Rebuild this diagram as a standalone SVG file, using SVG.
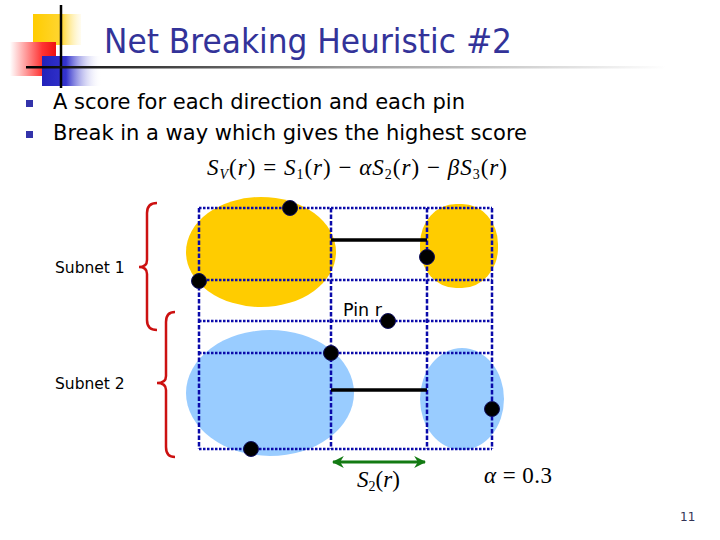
<svg xmlns="http://www.w3.org/2000/svg" width="720" height="540" viewBox="0 0 720 540">
<defs>
<linearGradient id="gy" x1="0" y1="0" x2="1" y2="0"><stop offset="0" stop-color="#FFCC00"/><stop offset="0.6" stop-color="#FFD633"/><stop offset="1" stop-color="#FFF5CC" stop-opacity="0.3"/></linearGradient>
<linearGradient id="gr" x1="0" y1="0" x2="1" y2="0"><stop offset="0" stop-color="#FFFFFF"/><stop offset="0.7" stop-color="#FF3333"/><stop offset="1" stop-color="#EE1111"/></linearGradient>
<linearGradient id="gb" x1="0" y1="0" x2="1" y2="0"><stop offset="0" stop-color="#2222BB"/><stop offset="0.4" stop-color="#3333CC"/><stop offset="1" stop-color="#FFFFFF" stop-opacity="0"/></linearGradient>
<linearGradient id="gl" x1="0" y1="0" x2="1" y2="0"><stop offset="0" stop-color="#000000"/><stop offset="0.5" stop-color="#999999"/><stop offset="1" stop-color="#FFFFFF"/></linearGradient>
<marker id="ah" viewBox="0 0 10 10" refX="9" refY="5" markerWidth="4" markerHeight="4" orient="auto-start-reverse"><path d="M0,0 L10,5 L0,10 L3,5 Z" fill="#137A13"/></marker>
</defs>
<style>
.title{font-family:"DejaVu Sans",sans-serif;fill:#333399;font-size:33px}
.bt{font-family:"DejaVu Sans",sans-serif;fill:#000;font-size:22px}
.lbl{font-family:"DejaVu Sans",sans-serif;fill:#000;font-size:15.5px}
.pin{font-family:"DejaVu Sans",sans-serif;fill:#000;font-size:17.5px}
.math{font-family:"Liberation Serif",serif;fill:#000;font-size:23px}
.hg{stroke:#0A0AAA;stroke-width:2.5;stroke-dasharray:2.5 1.5;fill:none}
.vg{stroke:#0A0AAA;stroke-width:2.5;stroke-dasharray:4.5 2;fill:none}
.dot{fill:#000;stroke:#101060;stroke-width:1}
.brace{fill:none;stroke:#CC1111;stroke-width:2.5}
.wire{stroke:#000;stroke-width:3.5}
</style>
<rect width="720" height="540" fill="#fff"/>
<g id="logo">
<rect x="33" y="14" width="48" height="31" fill="url(#gy)"/>
<rect x="10" y="42" width="46" height="34" fill="url(#gr)"/>
<rect x="42" y="56" width="60" height="30" fill="url(#gb)"/>
<line x1="61" y1="5" x2="61" y2="88" stroke="#000" stroke-width="2.5"/>
<rect x="26" y="66" width="640" height="2.5" fill="url(#gl)"/>
</g>
<text class="title" x="104" y="53" textLength="408" lengthAdjust="spacingAndGlyphs">Net Breaking Heuristic #2</text>
<rect x="26" y="100" width="7" height="7" fill="#3333AA"/>
<rect x="26" y="131" width="7" height="7" fill="#3333AA"/>
<text class="bt" x="53" y="109" textLength="412" lengthAdjust="spacingAndGlyphs">A score for each direction and each pin</text>
<text class="bt" x="53" y="140" textLength="474" lengthAdjust="spacingAndGlyphs">Break in a way which gives the highest score</text>
<text class="math" x="207" y="175" font-style="italic" textLength="300">S<tspan font-size="14" dy="4">V</tspan><tspan dy="-4" font-style="normal">(</tspan>r<tspan font-style="normal">) = </tspan>S<tspan font-size="14" dy="4" font-style="normal">1</tspan><tspan dy="-4" font-style="normal">(</tspan>r<tspan font-style="normal">) − </tspan>αS<tspan font-size="14" dy="4" font-style="normal">2</tspan><tspan dy="-4" font-style="normal">(</tspan>r<tspan font-style="normal">) − </tspan>βS<tspan font-size="14" dy="4" font-style="normal">3</tspan><tspan dy="-4" font-style="normal">(</tspan>r<tspan font-style="normal">)</tspan></text>
<g id="subnet1">
<ellipse cx="261" cy="252" rx="75" ry="55" fill="#FFCC00"/>
<rect x="420" y="204" width="78" height="84" rx="36" ry="40" fill="#FFCC00"/>
</g>
<g id="subnet2">
<ellipse cx="270" cy="393" rx="84" ry="63" fill="#99CCFF"/>
<ellipse cx="462" cy="399" rx="42" ry="51" fill="#99CCFF"/>
</g>
<g id="grid">
<line class="hg" x1="199" y1="208" x2="492" y2="208"/>
<line class="hg" x1="199" y1="280" x2="492" y2="280"/>
<line class="hg" x1="199" y1="321" x2="492" y2="321"/>
<line class="hg" x1="199" y1="353" x2="492" y2="353"/>
<line class="hg" x1="199" y1="449" x2="492" y2="449"/>
<line class="vg" x1="199" y1="208" x2="199" y2="449"/>
<line class="vg" x1="331" y1="208" x2="331" y2="449"/>
<line class="vg" x1="427" y1="208" x2="427" y2="449"/>
<line class="vg" x1="492" y1="208" x2="492" y2="449"/>
</g>
<g id="connectors">
<line class="wire" x1="331" y1="240" x2="427" y2="240"/>
<line class="wire" x1="331" y1="390" x2="427" y2="390"/>
<line x1="333" y1="462" x2="425" y2="462" stroke="#137A13" stroke-width="3" marker-start="url(#ah)" marker-end="url(#ah)"/>
<path class="brace" d="M157,203 Q147,203 147,213 L147,260 Q147,267 139,267 Q147,267 147,274 L147,320 Q147,330 157,330"/>
<path class="brace" d="M175,312 Q166,312 166,322 L166,376 Q166,383 157,383 Q166,383 166,390 L166,447 Q166,457 175,457"/>
</g>
<g id="pins">
<circle class="dot" cx="290" cy="208" r="7.5"/>
<circle class="dot" cx="199" cy="281" r="7.5"/>
<circle class="dot" cx="427" cy="257" r="7.5"/>
<circle class="dot" cx="388" cy="321" r="7.5"/>
<circle class="dot" cx="331" cy="353" r="7.5"/>
<circle class="dot" cx="492" cy="409" r="7.5"/>
<circle class="dot" cx="251" cy="449" r="7.5"/>
</g>
<text class="lbl" x="55" y="273">Subnet 1</text>
<text class="lbl" x="55" y="389">Subnet 2</text>
<text class="pin" x="343" y="316">Pin r</text>
<text class="math" x="357" y="487" font-style="italic">S<tspan font-size="14" dy="4" font-style="normal">2</tspan><tspan dy="-4" font-style="normal">(</tspan>r<tspan font-style="normal">)</tspan></text>
<text class="math" x="484" y="483" font-style="italic" textLength="68">α<tspan font-style="normal"> = 0.3</tspan></text>
<text x="680" y="521" font-family="DejaVu Sans,sans-serif" font-size="12" fill="#333355">11</text>
</svg>
